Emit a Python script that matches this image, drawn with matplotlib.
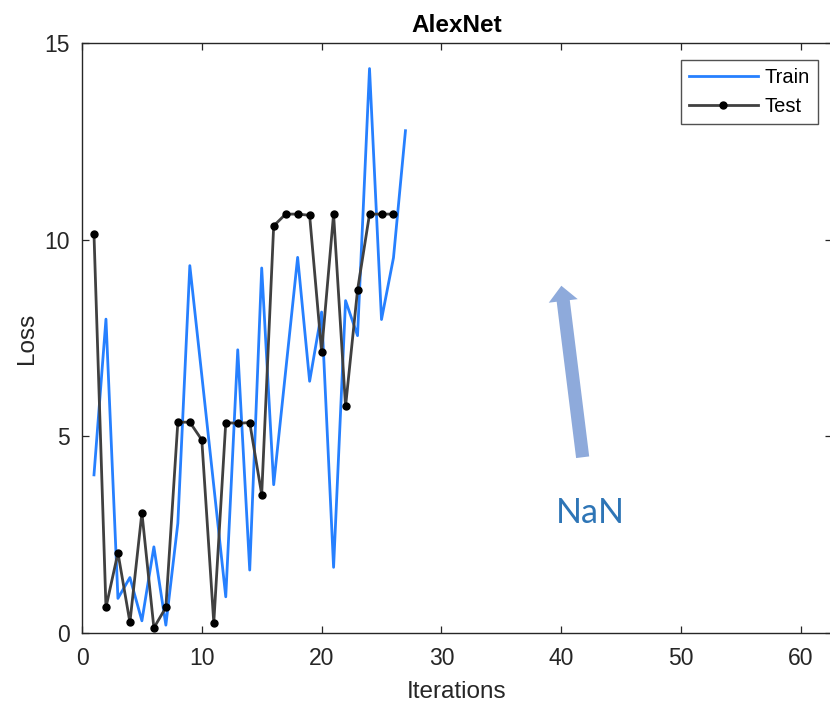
import matplotlib
matplotlib.use("Agg")
import matplotlib.pyplot as plt
from matplotlib.patches import FancyArrowPatch

# ---- data ----
train_iter = list(range(1, 28))
train_loss = [4.02, 7.98, 0.88, 1.41, 0.31, 2.19, 0.20, 2.79, 9.34, 6.55,
              3.74, 0.92, 7.20, 1.60, 9.28, 3.77, 6.66, 9.55, 6.40, 8.16,
              1.67, 8.45, 7.56, 14.35, 7.97, 9.54, 12.77]
test_iter = list(range(1, 27))
test_loss = [10.14, 0.65, 2.04, 0.27, 3.06, 0.13, 0.65, 5.36, 5.36, 4.91,
             0.26, 5.35, 5.33, 5.35, 3.52, 10.35, 10.65, 10.65, 10.62, 7.15,
             10.65, 5.76, 8.72, 10.65, 10.65, 10.65]
xticks = [0, 10, 20, 30, 40, 50, 60]
yticks = [0, 5, 10, 15]
title = "AlexNet"
xlabel = "Iterations"
ylabel = "Loss"
series_names = ["Train", "Test"]
annotation = "NaN"

plt.rcParams['font.family'] = ['Liberation Sans', 'DejaVu Sans']

W, H = 830, 704
fig = plt.figure(figsize=(W / 100, H / 100), dpi=100)
fig.patch.set_facecolor('white')

x0, x1 = 82, 832
y0, y1 = 633, 43
ax = fig.add_axes([x0 / W, (H - y0) / H, (x1 - x0) / W, (y0 - y1) / H])

ax.plot(train_iter, train_loss, color='#2680ff', lw=2.0, label=series_names[0])
ax.plot(test_iter, test_loss, color='#404040', lw=2.0, marker='o', ms=5,
        mfc='black', mec='black', label=series_names[1])

ax.set_xlim(0, (x1 - x0) / 11.98)
ax.set_ylim(0, 15)
ax.set_xticks(xticks)
ax.set_yticks(yticks)
ax.tick_params(direction='in', length=5, width=0.9, colors='#262626',
               labelsize=16.5, top=True, right=True, pad=9)
ax.tick_params(axis='x', pad=10)
for s in ax.spines.values():
    s.set_color('#262626')
    s.set_linewidth(1.0)

ax.set_title(title, fontsize=17.5, fontweight='bold', color='black', pad=8)
ax.set_xlabel(xlabel, fontsize=17.5, color='#262626', labelpad=8)
ax.set_ylabel(ylabel, fontsize=17.5, color='#262626', labelpad=4)

leg = ax.legend(loc='upper right', bbox_to_anchor=((818 - x0) / (x1 - x0), (y0 - 60) / (y0 - y1)),
                fontsize=14.5, frameon=True, fancybox=False, edgecolor='#262626',
                borderpad=0.4, handlelength=3.4, handletextpad=0.35, labelspacing=0.5,
                borderaxespad=0.0)
leg.get_frame().set_linewidth(1.0)

# Arrow and NaN annotation (figure pixels, origin bottom-left)
arrow = FancyArrowPatch((583, H - 460), (561, H - 283), transform=None,
                        arrowstyle='simple,head_width=21,head_length=11,tail_width=9.5',
                        mutation_scale=1, color='#8eaadb', lw=0)
fig.patches.append(arrow)
fig.text(590 / W, (H - 513) / H, annotation, fontsize=24.5, color='#2e75b6',
         family=['Lato', 'DejaVu Sans'], ha='center', va='center')

fig.savefig('out.png', dpi=100)
